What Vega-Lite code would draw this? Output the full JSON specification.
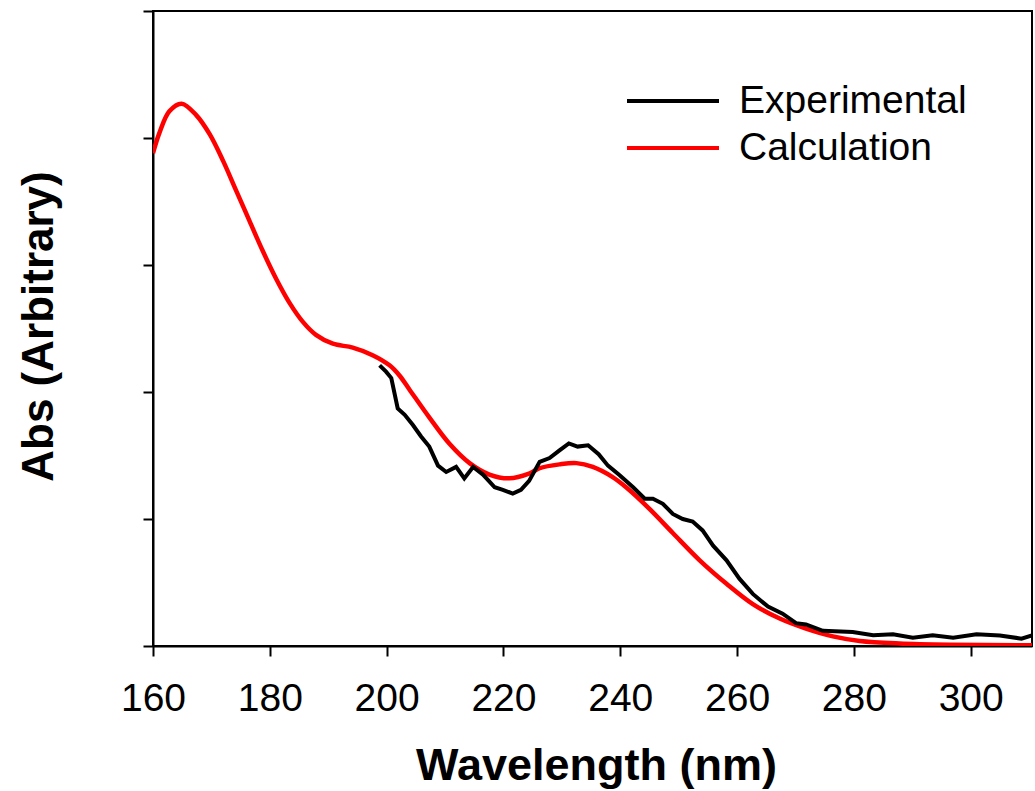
{
  "$schema": "https://vega.github.io/schema/vega-lite/v6.json",
  "width": 879,
  "height": 635,
  "autosize": {"type": "none"},
  "padding": {"left": 153, "top": 11, "right": 3, "bottom": 145},
  "background": "white",
  "config": {
    "view": {"stroke": "black", "strokeWidth": 2},
    "font": "Liberation Sans"
  },
  "data": {
    "values": [
      {"series": "Calculation", "wl": 160, "abs": 3.88},
      {"series": "Calculation", "wl": 161.1, "abs": 4.04},
      {"series": "Calculation", "wl": 162.8, "abs": 4.21},
      {"series": "Calculation", "wl": 164.9, "abs": 4.27},
      {"series": "Calculation", "wl": 167.4, "abs": 4.18},
      {"series": "Calculation", "wl": 169.7, "abs": 4.03},
      {"series": "Calculation", "wl": 172.0, "abs": 3.82},
      {"series": "Calculation", "wl": 174.2, "abs": 3.59},
      {"series": "Calculation", "wl": 176.5, "abs": 3.35},
      {"series": "Calculation", "wl": 178.8, "abs": 3.11},
      {"series": "Calculation", "wl": 181.1, "abs": 2.89},
      {"series": "Calculation", "wl": 183.4, "abs": 2.70},
      {"series": "Calculation", "wl": 185.7, "abs": 2.55},
      {"series": "Calculation", "wl": 187.9, "abs": 2.45},
      {"series": "Calculation", "wl": 190.8, "abs": 2.38},
      {"series": "Calculation", "wl": 194.2, "abs": 2.35},
      {"series": "Calculation", "wl": 197.6, "abs": 2.29},
      {"series": "Calculation", "wl": 200.5, "abs": 2.21},
      {"series": "Calculation", "wl": 202.2, "abs": 2.13},
      {"series": "Calculation", "wl": 203.9, "abs": 2.02},
      {"series": "Calculation", "wl": 207.3, "abs": 1.80},
      {"series": "Calculation", "wl": 210.8, "abs": 1.59},
      {"series": "Calculation", "wl": 214.2, "abs": 1.44},
      {"series": "Calculation", "wl": 217.6, "abs": 1.35},
      {"series": "Calculation", "wl": 221.0, "abs": 1.32},
      {"series": "Calculation", "wl": 224.5, "abs": 1.36},
      {"series": "Calculation", "wl": 226.2, "abs": 1.40},
      {"series": "Calculation", "wl": 229.6, "abs": 1.43},
      {"series": "Calculation", "wl": 232.5, "abs": 1.44},
      {"series": "Calculation", "wl": 235.3, "abs": 1.41},
      {"series": "Calculation", "wl": 238.7, "abs": 1.33},
      {"series": "Calculation", "wl": 241.0, "abs": 1.25},
      {"series": "Calculation", "wl": 245.0, "abs": 1.08},
      {"series": "Calculation", "wl": 249.0, "abs": 0.89},
      {"series": "Calculation", "wl": 253.6, "abs": 0.675},
      {"series": "Calculation", "wl": 258.2, "abs": 0.49},
      {"series": "Calculation", "wl": 262.7, "abs": 0.33},
      {"series": "Calculation", "wl": 267.3, "abs": 0.216},
      {"series": "Calculation", "wl": 271.8, "abs": 0.137},
      {"series": "Calculation", "wl": 276.4, "abs": 0.076},
      {"series": "Calculation", "wl": 281.0, "abs": 0.04},
      {"series": "Calculation", "wl": 287.8, "abs": 0.02},
      {"series": "Calculation", "wl": 296.4, "abs": 0.01},
      {"series": "Calculation", "wl": 310.5, "abs": 0.005},
      {"series": "Experimental", "wl": 198.8, "abs": 2.21},
      {"series": "Experimental", "wl": 199.9, "abs": 2.16},
      {"series": "Experimental", "wl": 200.8, "abs": 2.11},
      {"series": "Experimental", "wl": 201.9, "abs": 1.87},
      {"series": "Experimental", "wl": 203.1, "abs": 1.82},
      {"series": "Experimental", "wl": 204.5, "abs": 1.74},
      {"series": "Experimental", "wl": 205.9, "abs": 1.65},
      {"series": "Experimental", "wl": 207.3, "abs": 1.57},
      {"series": "Experimental", "wl": 208.8, "abs": 1.42},
      {"series": "Experimental", "wl": 210.2, "abs": 1.37},
      {"series": "Experimental", "wl": 211.9, "abs": 1.41},
      {"series": "Experimental", "wl": 213.3, "abs": 1.32},
      {"series": "Experimental", "wl": 214.8, "abs": 1.41},
      {"series": "Experimental", "wl": 216.5, "abs": 1.35},
      {"series": "Experimental", "wl": 218.5, "abs": 1.25},
      {"series": "Experimental", "wl": 219.9, "abs": 1.23},
      {"series": "Experimental", "wl": 221.6, "abs": 1.20},
      {"series": "Experimental", "wl": 223.0, "abs": 1.23},
      {"series": "Experimental", "wl": 224.4, "abs": 1.30},
      {"series": "Experimental", "wl": 226.2, "abs": 1.45},
      {"series": "Experimental", "wl": 227.9, "abs": 1.48},
      {"series": "Experimental", "wl": 229.6, "abs": 1.54},
      {"series": "Experimental", "wl": 231.2, "abs": 1.595},
      {"series": "Experimental", "wl": 232.7, "abs": 1.57},
      {"series": "Experimental", "wl": 234.5, "abs": 1.58},
      {"series": "Experimental", "wl": 236.3, "abs": 1.51},
      {"series": "Experimental", "wl": 237.9, "abs": 1.42},
      {"series": "Experimental", "wl": 239.9, "abs": 1.345},
      {"series": "Experimental", "wl": 242.2, "abs": 1.25},
      {"series": "Experimental", "wl": 244.2, "abs": 1.16},
      {"series": "Experimental", "wl": 245.6, "abs": 1.16},
      {"series": "Experimental", "wl": 247.3, "abs": 1.12},
      {"series": "Experimental", "wl": 249.0, "abs": 1.04},
      {"series": "Experimental", "wl": 250.7, "abs": 1.00},
      {"series": "Experimental", "wl": 252.4, "abs": 0.98},
      {"series": "Experimental", "wl": 254.1, "abs": 0.91},
      {"series": "Experimental", "wl": 255.9, "abs": 0.79},
      {"series": "Experimental", "wl": 258.2, "abs": 0.675},
      {"series": "Experimental", "wl": 260.4, "abs": 0.53},
      {"series": "Experimental", "wl": 262.7, "abs": 0.41},
      {"series": "Experimental", "wl": 265.3, "abs": 0.31},
      {"series": "Experimental", "wl": 267.8, "abs": 0.255},
      {"series": "Experimental", "wl": 270.1, "abs": 0.18},
      {"series": "Experimental", "wl": 271.8, "abs": 0.17},
      {"series": "Experimental", "wl": 274.7, "abs": 0.12},
      {"series": "Experimental", "wl": 279.8, "abs": 0.11},
      {"series": "Experimental", "wl": 283.3, "abs": 0.084},
      {"series": "Experimental", "wl": 286.7, "abs": 0.092},
      {"series": "Experimental", "wl": 290.1, "abs": 0.066},
      {"series": "Experimental", "wl": 293.5, "abs": 0.084},
      {"series": "Experimental", "wl": 297.0, "abs": 0.066},
      {"series": "Experimental", "wl": 301.0, "abs": 0.092},
      {"series": "Experimental", "wl": 305.0, "abs": 0.082},
      {"series": "Experimental", "wl": 308.7, "abs": 0.058},
      {"series": "Experimental", "wl": 310.5, "abs": 0.084}
    ]
  },
  "encoding": {
    "x": {
      "field": "wl",
      "type": "quantitative",
      "scale": {"domain": [160, 310.5], "nice": false, "zero": false},
      "axis": {
        "values": [160, 180, 200, 220, 240, 260, 280, 300],
        "title": "Wavelength (nm)",
        "grid": false,
        "domainColor": "black",
        "domainWidth": 2,
        "tickColor": "black",
        "tickWidth": 2,
        "tickSize": 10,
        "labelFont": "Liberation Sans",
        "labelFontSize": 39,
        "labelColor": "black",
        "labelBaseline": "alphabetic",
        "labelPadding": 54,
        "labelFlush": false,
        "labelOverlap": false,
        "titleFont": "Liberation Sans",
        "titleFontSize": 45,
        "titleFontWeight": "bold",
        "titleColor": "black",
        "titleBaseline": "alphabetic",
        "titleAlign": "center",
        "titleAnchor": "start",
        "titleX": 443,
        "titleY": 133
      }
    },
    "y": {
      "field": "abs",
      "type": "quantitative",
      "scale": {"domain": [0, 5], "nice": false},
      "axis": {
        "values": [0, 1, 2, 3, 4, 5],
        "labels": false,
        "title": "Abs (Arbitrary)",
        "grid": false,
        "domainColor": "black",
        "domainWidth": 2,
        "tickColor": "black",
        "tickWidth": 2,
        "tickSize": 10,
        "titleFont": "Liberation Sans",
        "titleFontSize": 44,
        "titleFontWeight": "bold",
        "titleColor": "black",
        "titleAngle": -90,
        "titleBaseline": "alphabetic",
        "titleAlign": "center",
        "titleAnchor": "start",
        "titleX": -101,
        "titleY": 315
      }
    },
    "color": {
      "field": "series",
      "type": "nominal",
      "scale": {"domain": ["Experimental", "Calculation"], "range": ["#000000", "#ff0000"]},
      "legend": {
        "orient": "none",
        "legendX": 495,
        "legendY": 65,
        "title": null,
        "padding": 0,
        "symbolType": "M-2,0H2",
        "symbolSize": 2116,
        "symbolStrokeWidth": 4,
        "labelFont": "Liberation Sans",
        "labelFontSize": 39,
        "labelColor": "black",
        "labelLimit": 400,
        "labelOffset": 41,
        "rowPadding": 2
      }
    }
  },
  "layer": [
    {
      "transform": [{"filter": "datum.series === 'Calculation'"}],
      "mark": {"type": "line", "interpolate": "catmull-rom", "strokeWidth": 4.5, "clip": true}
    },
    {
      "transform": [{"filter": "datum.series === 'Experimental'"}],
      "mark": {"type": "line", "strokeWidth": 4, "clip": true}
    }
  ]
}
